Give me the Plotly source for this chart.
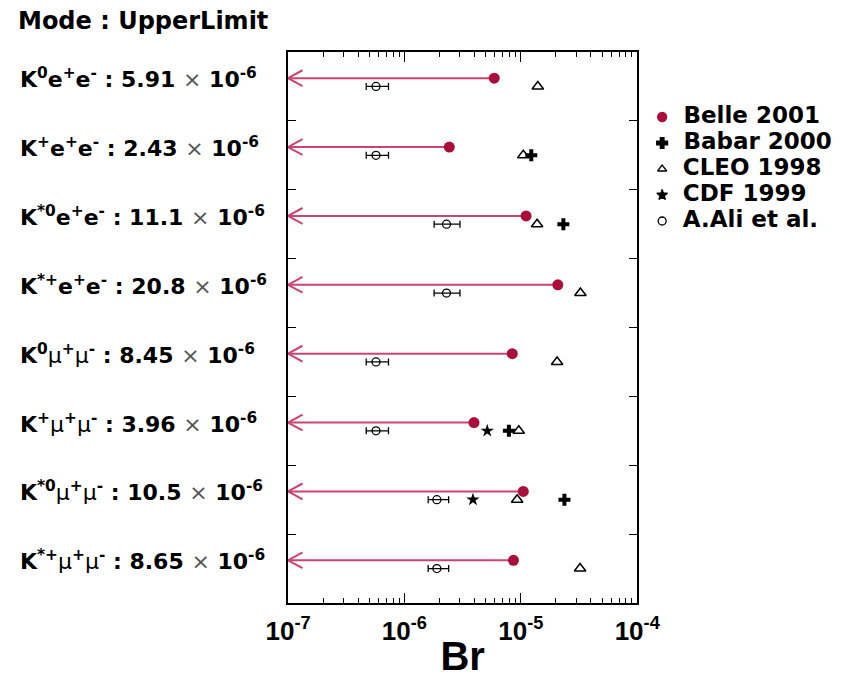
import plotly.graph_objects as go

# ---------------- data ----------------
mode_labels = [
    "K<sup>0</sup>e<sup>+</sup>e<sup>-</sup>",
    "K<sup>+</sup>e<sup>+</sup>e<sup>-</sup>",
    "K<sup>*0</sup>e<sup>+</sup>e<sup>-</sup>",
    "K<sup>*+</sup>e<sup>+</sup>e<sup>-</sup>",
    "K<sup>0</sup>μ<sup>+</sup>μ<sup>-</sup>",
    "K<sup>+</sup>μ<sup>+</sup>μ<sup>-</sup>",
    "K<sup>*0</sup>μ<sup>+</sup>μ<sup>-</sup>",
    "K<sup>*+</sup>μ<sup>+</sup>μ<sup>-</sup>",
]
limit_text = ["5.91", "2.43", "11.1", "20.8", "8.45", "3.96", "10.5", "8.65"]
belle_2001 = [5.91e-6, 2.43e-6, 11.1e-6, 20.8e-6, 8.45e-6, 3.96e-6, 10.5e-6, 8.65e-6]
babar_2000 = [None, 1.23e-5, 2.32e-5, None, None, 7.9e-6, 2.37e-5, None]
cleo_1998 = [1.40e-5, 1.05e-5, 1.38e-5, 3.25e-5, 2.05e-5, 9.6e-6, 9.3e-6, 3.23e-5]
cdf_1999 = [None, None, None, None, None, 5.15e-6, 3.88e-6, None]
ali_pred = [0.57e-6, 0.57e-6, 2.3e-6, 2.3e-6, 0.57e-6, 0.57e-6, 1.9e-6, 1.9e-6]
ali_plus = [0.16e-6, 0.16e-6, 0.7e-6, 0.7e-6, 0.16e-6, 0.16e-6, 0.5e-6, 0.5e-6]
ali_minus = [0.10e-6, 0.10e-6, 0.5e-6, 0.5e-6, 0.10e-6, 0.10e-6, 0.3e-6, 0.3e-6]

legend_names = ["Belle 2001", "Babar 2000", "CLEO 1998", "CDF 1999", "A.Ali et al."]
x_tick_vals = [1e-7, 1e-6, 1e-5, 1e-4]
x_tick_text = ["10<sup>-7</sup>", "10<sup>-6</sup>", "10<sup>-5</sup>", "10<sup>-4</sup>"]
x_min, x_max = 1e-7, 1e-4

# ---------------- style ----------------
BELLE_DOT = "#AC0E3C"
BELLE_LINE = "#CC4470"
LABEL_FONT = "DejaVu Sans"
AXIS_FONT = "Liberation Sans, Arial"

n = len(mode_labels)
rows = list(range(n))
y_belle = [r + 0.38 for r in rows]
y_other = [r + 0.5 for r in rows]

# arrow-head size (in axis units): ~15 px long, ~8 px half-height
HEAD_DEC = 0.125      # decades
HEAD_HALF = 0.115     # rows

fig = go.Figure()

# Belle upper-limit arrows (line from the limit down to the axis minimum, open head)
lx, ly = [], []
for v, y in zip(belle_2001, y_belle):
    lx += [x_min, v, None]
    ly += [y, y, None]
    tip_end = x_min * 10 ** HEAD_DEC
    lx += [tip_end, x_min, tip_end, None]
    ly += [y - HEAD_HALF, y, y + HEAD_HALF, None]
fig.add_trace(go.Scatter(x=lx, y=ly, mode="lines", line=dict(color=BELLE_LINE, width=2),
                         cliponaxis=False, showlegend=False, hoverinfo="skip"))

# A. Ali et al. predictions
fig.add_trace(go.Scatter(x=ali_pred, y=y_other, mode="markers",
                         marker=dict(symbol="circle-open", size=8, color="black",
                                     line=dict(color="black", width=1.3)),
                         error_x=dict(type="data", array=ali_plus, arrayminus=ali_minus,
                                      color="black", thickness=1.3, width=3.5),
                         showlegend=False))
# CLEO
fig.add_trace(go.Scatter(x=cleo_1998, y=y_other, mode="markers",
                         marker=dict(symbol="triangle-up-open", size=10, color="black",
                                     line=dict(color="black", width=1.5)),
                         showlegend=False))
# CDF
fig.add_trace(go.Scatter(x=cdf_1999, y=y_other, mode="markers",
                         marker=dict(symbol="star", size=10, color="black"),
                         showlegend=False))
# Babar
fig.add_trace(go.Scatter(x=babar_2000, y=y_other, mode="markers",
                         marker=dict(symbol="cross", size=10, color="black"),
                         showlegend=False))
# Belle
fig.add_trace(go.Scatter(x=belle_2001, y=y_belle, mode="markers",
                         marker=dict(symbol="circle", size=11, color=BELLE_DOT),
                         showlegend=False))

# ---- legend drawn on its own small axes ----
leg_symbols = ["circle", "cross", "triangle-up-open", "star", "circle-open"]
leg_colors = [BELLE_DOT, "black", "black", "black", "black"]
leg_sizes = [9, 9, 8, 8, 8]
for i, (nm, sym, col, sz) in enumerate(zip(legend_names, leg_symbols, leg_colors, leg_sizes)):
    fig.add_trace(go.Scatter(x=[0], y=[i], xaxis="x2", yaxis="y2", mode="markers+text",
                             marker=dict(symbol=sym, size=sz, color=col,
                                         line=dict(color=col, width=1.3)),
                             text=["\u00a0\u00a0<b>" + nm + "</b>"], textposition="middle right",
                             textfont=dict(family=LABEL_FONT, size=23, color="black"),
                             cliponaxis=False, showlegend=False, hoverinfo="skip"))

# ---- mode labels ----
for lab, val, y in zip(mode_labels, limit_text, y_belle):
    txt = ("<b>" + lab.replace("μ", "<span style='font-weight:normal'>μ</span>") + " : " + val +
           " <span style='font-weight:normal;color:#555'>×</span> 10<sup>-6</sup></b>")
    fig.add_annotation(x=0, xref="paper", y=y, yref="y", xanchor="left", yanchor="middle",
                       xshift=-270, text=txt, showarrow=False,
                       font=dict(family=LABEL_FONT, size=22, color="black"))

W, H = 854, 678
ML, MT, MB = 288, 52, 75
plot_w = W - ML
plot_h = H - MT - MB
main_frac = 364 / plot_w
leg_x0 = (678 - ML) / plot_w
leg_top, leg_step = 117, 26.0
leg_y_hi = (H - MB - (leg_top - leg_step / 2)) / plot_h
leg_y_lo = (H - MB - (leg_top + 4.5 * leg_step)) / plot_h

fig.update_layout(
    width=W, height=H,
    margin=dict(l=ML, r=0, t=MT, b=MB),
    paper_bgcolor="white", plot_bgcolor="white",
    title=dict(text="<b>Mode : UpperLimit</b>", x=18 / W, xanchor="left",
               y=1 - 21 / H, yanchor="middle",
               font=dict(family=LABEL_FONT, size=24, color="black")),
    xaxis=dict(type="log", range=[-7, -4], domain=[0, main_frac],
               tickvals=x_tick_vals, ticktext=x_tick_text,
               ticks="inside", ticklen=10, tickwidth=1.2, tickcolor="black",
               minor=dict(tickvals=[m * 10 ** e for e in (-7, -6, -5) for m in range(2, 10)],
                          ticks="inside", ticklen=5, tickwidth=1, tickcolor="black", showgrid=False),
               showline=True, linecolor="black", linewidth=1.5, mirror="ticks",
               showgrid=False, zeroline=False,
               tickfont=dict(family=AXIS_FONT, size=26, color="black", weight="bold"),
               ticklabelstandoff=4,
               title=dict(text="<b>Br</b>", font=dict(family=AXIS_FONT, size=40, color="black"),
                          standoff=0)),
    yaxis=dict(range=[n, 0], tickvals=list(range(1, n)), showticklabels=False,
               ticks="inside", ticklen=8, tickwidth=1.2, tickcolor="black",
               showline=True, linecolor="black", linewidth=1.5, mirror="ticks",
               showgrid=False, zeroline=False),
    xaxis2=dict(domain=[leg_x0, 1], range=[0, 1], visible=False, anchor="y2"),
    yaxis2=dict(domain=[leg_y_lo, leg_y_hi], range=[4.5, -0.5], visible=False, anchor="x2"),
)

fig.write_html("out.html", config={"displayModeBar": False},
               post_script="document.body.style.margin='0px';")
